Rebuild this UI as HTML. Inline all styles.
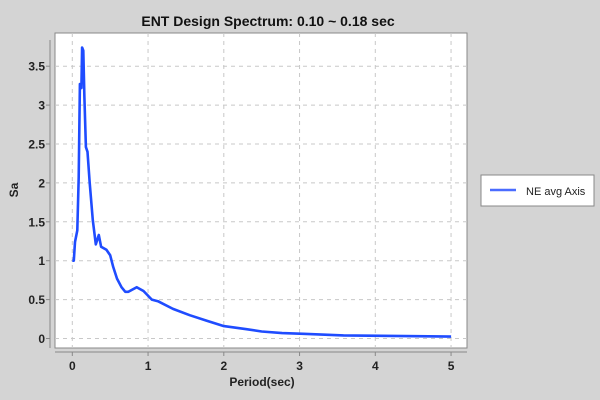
<!DOCTYPE html>
<html><head><meta charset="utf-8"><style>
html,body{margin:0;padding:0;background:#d4d4d4;}
svg{display:block;font-family:"Liberation Sans",Arial,sans-serif;}
</style></head><body>
<svg id="chart" width="600" height="400">
<rect x="0" y="0" width="600" height="400" fill="#d4d4d4"/>
<text x="268" y="26" text-anchor="middle" font-size="14" font-weight="bold" fill="#111">ENT Design Spectrum: 0.10 ~ 0.18 sec</text>
<rect x="55" y="33" width="412" height="315" fill="#fff" stroke="#888" stroke-width="1"/>
<g id="grid"></g>
<line x1="50" y1="40" x2="50" y2="348" stroke="#888"/>
<line x1="55" y1="352" x2="467" y2="352" stroke="#888"/>
<g id="yticks"></g>
<g id="xticks"></g>
<path id="series" fill="none" stroke="#1f4cff" stroke-width="2.6" stroke-linejoin="round"/>
<text x="262" y="386" text-anchor="middle" font-size="12" font-weight="bold" fill="#222">Period(sec)</text>
<text transform="translate(18,190) rotate(-90)" text-anchor="middle" font-size="12" font-weight="bold" fill="#222">Sa</text>
<g>
<rect x="481" y="175" width="113" height="31" fill="#fff" stroke="#888"/>
<line x1="490" y1="190" x2="516" y2="190" stroke="#4a6cff" stroke-width="2.5"/>
<text x="526" y="195" font-size="11" fill="#222">NE avg Axis</text>
</g>
</svg>
<script>
const periods=[0,0.02,0.035,0.066,0.084,0.10,0.12,0.13,0.145,0.16,0.18,0.2,0.23,0.27,0.31,0.35,0.38,0.45,0.5,0.54,0.59,0.65,0.70,0.74,0.85,0.94,1.05,1.13,1.33,1.55,1.77,2.0,2.3,2.5,2.77,3.05,3.58,4.55,5.0];
const saValues=[1.0,1.0,1.24,1.39,2.07,3.27,3.22,3.74,3.7,3.1,2.46,2.4,2.0,1.52,1.21,1.33,1.18,1.14,1.07,0.92,0.77,0.66,0.6,0.6,0.66,0.61,0.5,0.48,0.38,0.30,0.23,0.16,0.12,0.09,0.07,0.06,0.04,0.03,0.025];
const xTickLabels=["0","1","2","3","4","5"];
const yTickLabels=["0","0.5","1","1.5","2","2.5","3","3.5"];
const NS="http://www.w3.org/2000/svg";
function xs(v){return 72.3+v*75.75;}
function ys(v){return 338.5-v*77.8;}
const grid=document.getElementById('grid'),yt=document.getElementById('yticks'),xt=document.getElementById('xticks');
function mk(tag,attrs,parent){const e=document.createElementNS(NS,tag);for(const k in attrs)e.setAttribute(k,attrs[k]);parent.appendChild(e);return e;}
yTickLabels.forEach(l=>{const v=parseFloat(l),y=ys(v);
 const g=mk('line',{x1:55,x2:467,y1:y,y2:y,stroke:'#c8c8c8','stroke-dasharray':'4,4'},grid);
 
 
 const t=mk('line',{x1:46,x2:50,y1:y,y2:y,stroke:'#888'},yt);
 
 
 const tx=mk('text',{x:45,y:y+4.5,'text-anchor':'end','font-size':'12','font-weight':'bold',fill:'#222'},yt);
 tx.textContent=l;
 
 
});
xTickLabels.forEach(l=>{const v=parseFloat(l),x=xs(v);
 const g=mk('line',{x1:x,x2:x,y1:33,y2:348,stroke:'#c8c8c8','stroke-dasharray':'4,4'},grid);
 
 
 const t=mk('line',{x1:x,x2:x,y1:352,y2:356,stroke:'#888'},xt);
 
 
 const tx=mk('text',{x:x,y:370,'text-anchor':'middle','font-size':'12','font-weight':'bold',fill:'#222'},xt);
 tx.textContent=l;
 
 
});
document.getElementById('series').setAttribute('d',periods.map((p,i)=>(i?'L':'M')+xs(p).toFixed(1)+','+ys(saValues[i]).toFixed(1)).join(' '));
</script>
</body></html>
